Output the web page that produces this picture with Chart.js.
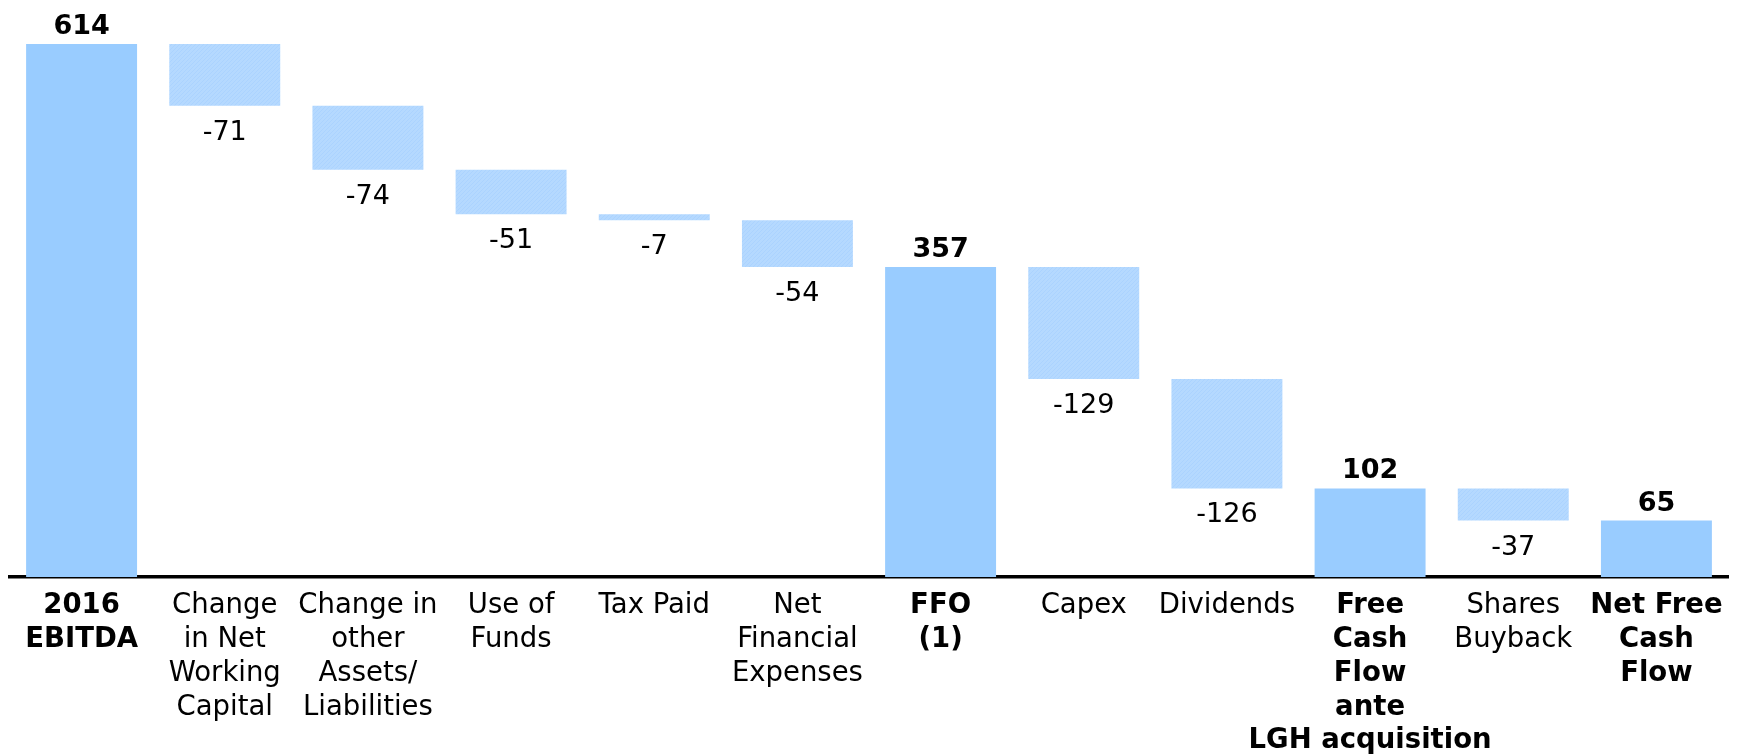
<!DOCTYPE html>
<html>
<head>
<meta charset="utf-8">
<script src="https://cdn.jsdelivr.net/npm/chart.js@4/dist/chart.umd.min.js"></script>
<style>
  html, body { margin: 0; padding: 0; background: #fff; }
  #wrap { width: 1740px; height: 755px; position: relative; }
</style>
</head>
<body>
<div id="wrap"><canvas id="c"></canvas></div>
<script>
const categories = [
  ["2016", "EBITDA"],
  ["Change", "in Net", "Working", "Capital"],
  ["Change in", "other", "Assets/", "Liabilities"],
  ["Use of", "Funds"],
  ["Tax Paid"],
  ["Net", "Financial", "Expenses"],
  ["FFO", "(1)"],
  ["Capex"],
  ["Dividends"],
  ["Free", "Cash", "Flow", "ante", "LGH acquisition"],
  ["Shares", "Buyback"],
  ["Net Free", "Cash", "Flow"]
];
const values = [614, -71, -74, -51, -7, -54, 357, -129, -126, 102, -37, 65];
const isTotal = [true, false, false, false, false, false, true, false, false, true, false, true];

const FONT = "'DejaVu Sans', Verdana, sans-serif";
const totalColor = '#99CCFF';

// subtle diagonal hatch for the change bars
function hatch() {
  const p = document.createElement('canvas');
  p.width = 4; p.height = 4;
  const g = p.getContext('2d');
  g.fillStyle = '#B5D9FF';
  g.fillRect(0, 0, 4, 4);
  g.fillStyle = '#ABD3FF';
  for (let i = 0; i < 4; i++) g.fillRect(i, 3 - i, 1, 1);
  return g.createPattern(p, 'repeat');
}
const deltaColor = hatch();

// build floating bars from the values
const ranges = [];
let running = 0;
values.forEach((v, i) => {
  if (isTotal[i]) { ranges.push([0, v]); running = v; }
  else { ranges.push([running + v, running]); running += v; }
});

const labelPlugin = {
  id: 'valueLabels',
  afterDatasetsDraw(chart) {
    const ctx = chart.ctx;
    const meta = chart.getDatasetMeta(0);
    ctx.save();
    ctx.fillStyle = '#000';
    ctx.textAlign = 'center';
    ctx.textBaseline = 'alphabetic';
    meta.data.forEach((bar, i) => {
      const v = values[i];
      if (isTotal[i]) {
        ctx.font = 'bold 27px ' + FONT;
        const top = Math.min(bar.y, bar.base);
        ctx.fillText(String(v), bar.x, top - 10);
      } else {
        ctx.font = '27px ' + FONT;
        const bottom = Math.max(bar.y, bar.base);
        ctx.fillText(String(v), bar.x, bottom + 34);
      }
    });
    ctx.restore();
  }
};

new Chart(document.getElementById('c'), {
  type: 'bar',
  data: {
    labels: categories,
    datasets: [{
      data: ranges,
      backgroundColor: isTotal.map(t => t ? totalColor : deltaColor),
      borderWidth: 0,
      barPercentage: 0.775,
      categoryPercentage: 1.0
    }]
  },
  options: {
    responsive: true,
    maintainAspectRatio: false,
    animation: false,
    layout: { padding: { left: 10, right: 12, top: 44, bottom: 0 } },
    plugins: { legend: { display: false }, tooltip: { enabled: false } },
    scales: {
      x: {
        grid: { display: false },
        border: { display: true, color: '#000', width: 3.5 },
        ticks: {
          autoSkip: false,
          maxRotation: 0,
          minRotation: 0,
          padding: 4,
          color: '#000',
          font: (c) => ({ family: FONT, size: 27.5, lineHeight: 1.23, weight: isTotal[c.index] ? 'bold' : 'normal' })
        },
        afterFit: (scale) => { scale.height = 178; }
      },
      y: {
        display: false,
        min: 0,
        max: 614
      }
    }
  },
  plugins: [labelPlugin]
});
</script>
</body>
</html>
